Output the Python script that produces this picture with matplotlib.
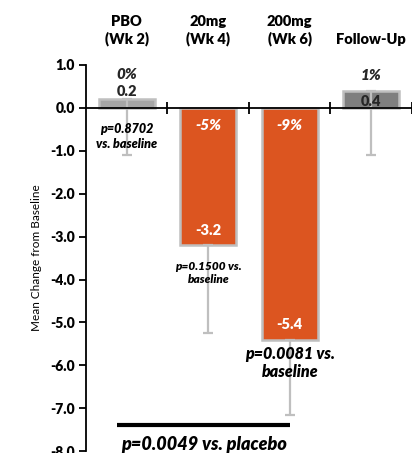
import matplotlib

matplotlib.use("Agg")
import matplotlib.pyplot as plt

plt.rcParams["font.family"] = ["Lato", "DejaVu Sans"]

# mean change from baseline per visit
groups = ["PBO\n(Wk 2)", "20mg\n(Wk 4)", "200mg\n(Wk 6)", "Follow-Up"]
means = [0.2, -3.2, -5.4, 0.4]
err_low = [1.3, 2.05, 1.75, 1.5]
pct_labels = ["0%", "-5%", "-9%", "1%"]
value_labels = ["0.2", "-3.2", "-5.4", "0.4"]
pvals = ["p=0.8702\nvs. baseline", "p=0.1500 vs.\nbaseline", "p=0.0081 vs.\nbaseline", None]
placebo_p = "p=0.0049 vs. placebo"

fills = ["#a6a6a6", "#dc5520", "#dc5520", "#7f7f7f"]
edge = "#bfbfbf"

fig = plt.figure(figsize=(4.12, 4.53), dpi=100)
ax = fig.add_axes([0.2087, 0.004, 0.7913, 0.8526])

x = range(len(groups))
ax.bar(x, means, width=0.69, color=fills, edgecolor=edge, linewidth=1.8, zorder=2)
ax.errorbar(x, means, yerr=[err_low, [0] * len(means)], fmt="none",
            ecolor=edge, elinewidth=1.6, capsize=3.5, capthick=1.6, zorder=3)

ax.set_xlim(-0.5, 3.5)
ax.set_ylim(-8.0, 1.0)
ax.set_yticks([1.0, 0.0, -1.0, -2.0, -3.0, -4.0, -5.0, -6.0, -7.0, -8.0])
ax.set_yticklabels([f"{v:.1f}" for v in ax.get_yticks()], fontsize=10, fontweight="heavy")
ax.tick_params(axis="y", direction="out", length=5, width=1.3, pad=3)

# x axis sits on zero with ticks between categories
ax.spines["top"].set_visible(False)
ax.spines["right"].set_visible(False)
ax.spines["bottom"].set_position(("data", 0))
ax.spines["bottom"].set_linewidth(1.3)
ax.spines["left"].set_linewidth(1.3)
ax.set_xticks([0.5, 1.5, 2.5, 3.5])
ax.set_xticklabels([])
ax.tick_params(axis="x", direction="inout", length=9, width=1.3)
ax.spines["bottom"].set_zorder(4)

ax.set_ylabel("Mean Change from Baseline", fontsize=8.5, labelpad=6)

for i, g in enumerate(groups):
    ax.text(i, 1.45, g, ha="center", va="bottom", fontsize=10.5, fontweight="heavy",
            linespacing=1.25)

# percent and value labels
ax.text(0, 0.78, pct_labels[0], ha="center", va="center", fontsize=11,
        fontweight="heavy", style="italic", color="#262626")
ax.text(0, 0.37, value_labels[0], ha="center", va="center", fontsize=10.5,
        fontweight="heavy", color="#262626")
ax.text(3, 0.75, pct_labels[3], ha="center", va="center", fontsize=11,
        fontweight="heavy", style="italic", color="#262626")
ax.text(3, 0.16, value_labels[3], ha="center", va="center", fontsize=10.5,
        fontweight="heavy", color="#262626")
for i in (1, 2):
    ax.text(i, -0.4, pct_labels[i], ha="center", va="center", fontsize=11,
            fontweight="heavy", style="italic", color="white")
    ax.text(i, means[i] + 0.35, value_labels[i], ha="center", va="center",
            fontsize=10.5, fontweight="heavy", color="white")

# p-values under bars
ax.text(0, -0.67, pvals[0], ha="center", va="center", fontsize=9,
        fontweight="heavy", style="italic", linespacing=1.25, zorder=5)
ax.text(1, -3.85, pvals[1], ha="center", va="center", fontsize=8.5,
        fontweight="heavy", style="italic", linespacing=1.25, zorder=5)
ax.text(2, -5.95, pvals[2], ha="center", va="center", fontsize=11.5,
        fontweight="heavy", style="italic", linespacing=1.15, zorder=5)

ax.plot([-0.115, 2.0], [-7.4, -7.4], color="black", linewidth=3, solid_capstyle="butt")
ax.text(0.95, -7.85, placebo_p, ha="center", va="center", fontsize=13,
        fontweight="heavy", style="italic")

fig.savefig("out.png", dpi=100)
